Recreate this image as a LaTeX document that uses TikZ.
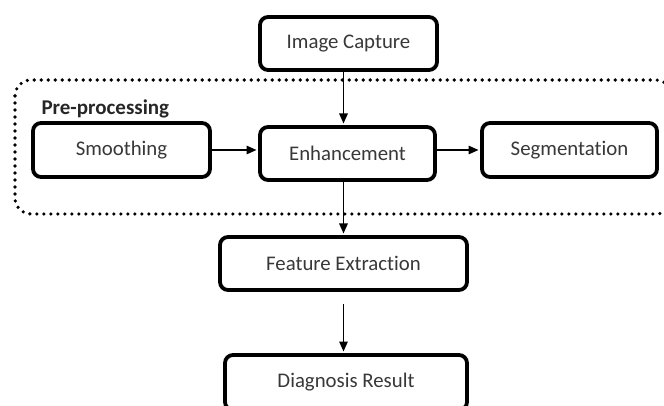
\documentclass[tikz,border=0pt]{standalone}
\usepackage{fontspec}
\setmainfont[Ligatures=NoCommon]{Carlito}
\usetikzlibrary{arrows.meta}
\begin{document}
\begin{tikzpicture}[x=1pt,y=-1pt,
  box/.style={draw, line width=3.8pt, rounded corners=8pt, inner sep=0pt, fill=white,
    font=\fontsize{20.8}{24}\selectfont, text=black!78},
  arr/.style={-{Triangle[length=10pt,width=8.5pt]}, line width=1.5pt, shorten >=1.6pt},
  grp/.style={line width=3.6pt, dash pattern=on 0pt off 7pt, line cap=round, rounded corners=16pt}]
\useasboundingbox (0,0) rectangle (664,406);
\clip (0,0) rectangle (664,406);
\draw[grp] (15,80) rectangle (672,214);
\node[anchor=west, font=\bfseries\fontsize{21}{24}\selectfont, text=black!85] (pre) at (38,109) {Pre-processing};
\node[box, minimum width=177pt, minimum height=53pt] (cap) at (348.5,43.5) {Image Capture};
\node[box, minimum width=177pt, minimum height=54pt] (smo) at (121.5,150) {Smoothing};
\node[box, minimum width=175pt, minimum height=53pt] (enh) at (347.5,153.5) {Enhancement};
\node[box, minimum width=175pt, minimum height=54pt] (seg) at (569.5,150) {Segmentation};
\node[box, minimum width=247pt, minimum height=53pt] (fea) at (343.5,263.5) {Feature Extraction};
\node[box, minimum width=242pt, minimum height=55pt] (dia) at (346,382.5) {Diagnosis Result};
\draw[arr] (cap.south -| fea.north) -- (enh.north -| fea.north);
\draw[arr] (enh.south -| fea.north) -- (fea.north);
\draw[arr] ([yshift=-12pt]fea.south) -- (dia.north -| fea.south);
\draw[arr] (smo.east |- seg.west) -- (seg.west -| enh.west);
\draw[arr] (seg.west -| enh.east) -- (seg.west);
\end{tikzpicture}
\end{document}
